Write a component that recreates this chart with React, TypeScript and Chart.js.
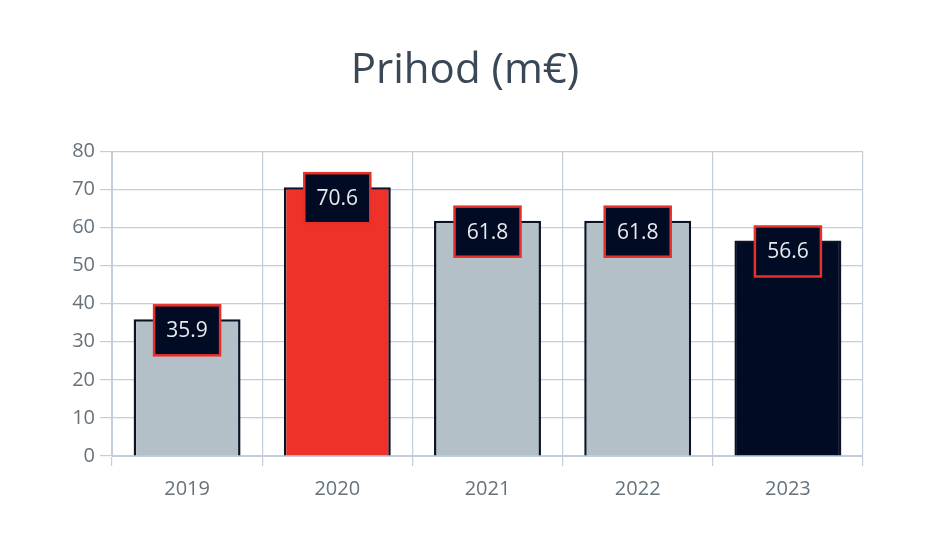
import React, { useEffect, useRef } from "react";
import { Chart, registerables } from "chart.js";

Chart.register(...registerables);

const categories = ["2019", "2020", "2021", "2022", "2023"];
const revenue = [35.9, 70.6, 61.8, 61.8, 56.6];
const barColors = ["#b4c0c8", "#ee3129", "#b4c0c8", "#b4c0c8", "#020b24"];
const valueLabels = ["35.9", "70.6", "61.8", "61.8", "56.6"];
const titleText = "Prihod (m€)";

const FONT = "'Open Sans', 'Noto Sans', sans-serif";

const labelBoxPlugin = {
  id: "labelBoxes",
  afterDatasetsDraw(chart: any) {
    const ctx = chart.ctx;
    const meta = chart.getDatasetMeta(0);
    ctx.save();
    meta.data.forEach((bar: any, i: number) => {
      const w = 66;
      const h = 50;
      const x = bar.x - w / 2;
      const y = bar.y - 14;
      ctx.fillStyle = "#020b24";
      ctx.fillRect(x, y, w, h);
      ctx.strokeStyle = "#e8302a";
      ctx.lineWidth = 2.5;
      ctx.strokeRect(x, y, w, h);
      ctx.fillStyle = "#e6ebef";
      ctx.font = `21px ${FONT}`;
      ctx.textAlign = "center";
      ctx.textBaseline = "middle";
      ctx.fillText(valueLabels[i], bar.x, y + h / 2 + 1);
    });
    ctx.restore();
  },
};

export default function App() {
  const ref = useRef<HTMLCanvasElement | null>(null);
  useEffect(() => {
    if (!ref.current) return;
    const chart = new Chart(ref.current, {
      type: "bar",
      data: {
        labels: categories,
        datasets: [
          {
            data: revenue,
            backgroundColor: barColors,
            borderColor: "#0a1328",
            borderWidth: 2.5,
            borderSkipped: "start",
            barPercentage: 0.89,
            categoryPercentage: 0.8,
          },
        ],
      },
      options: {
        animation: false,
        responsive: true,
        maintainAspectRatio: false,
        layout: { padding: { left: 67, right: 77, top: 0, bottom: 24 } },
        plugins: {
          legend: { display: false },
          tooltip: { enabled: false },
          title: {
            display: true,
            text: titleText,
            color: "#3a4756",
            font: { family: FONT, size: 42, weight: "normal" },
            padding: { top: 46, bottom: 55 },
          },
        },
        scales: {
          x: {
            grid: { color: "#c3ced8", tickLength: 10, lineWidth: 1.2 },
            border: { color: "#c3ced8" },
            ticks: {
              color: "#66727c",
              font: { family: FONT, size: 20 },
              padding: 11,
            },
          },
          y: {
            min: 0,
            max: 80,
            afterFit: (scale: any) => {
              scale.width = 45;
            },
            grid: { color: "#c3ced8", tickLength: 12, lineWidth: 1.2 },
            border: { color: "#c3ced8" },
            ticks: {
              stepSize: 10,
              color: "#66727c",
              font: { family: FONT, size: 20 },
              padding: 5,
            },
          },
        },
      },
      plugins: [labelBoxPlugin],
    });
    return () => chart.destroy();
  }, []);
  return (
    <div style={{ position: "fixed", left: 0, top: 0, width: 940, height: 536, background: "#fff" }}>
      <canvas ref={ref} />
    </div>
  );
}
